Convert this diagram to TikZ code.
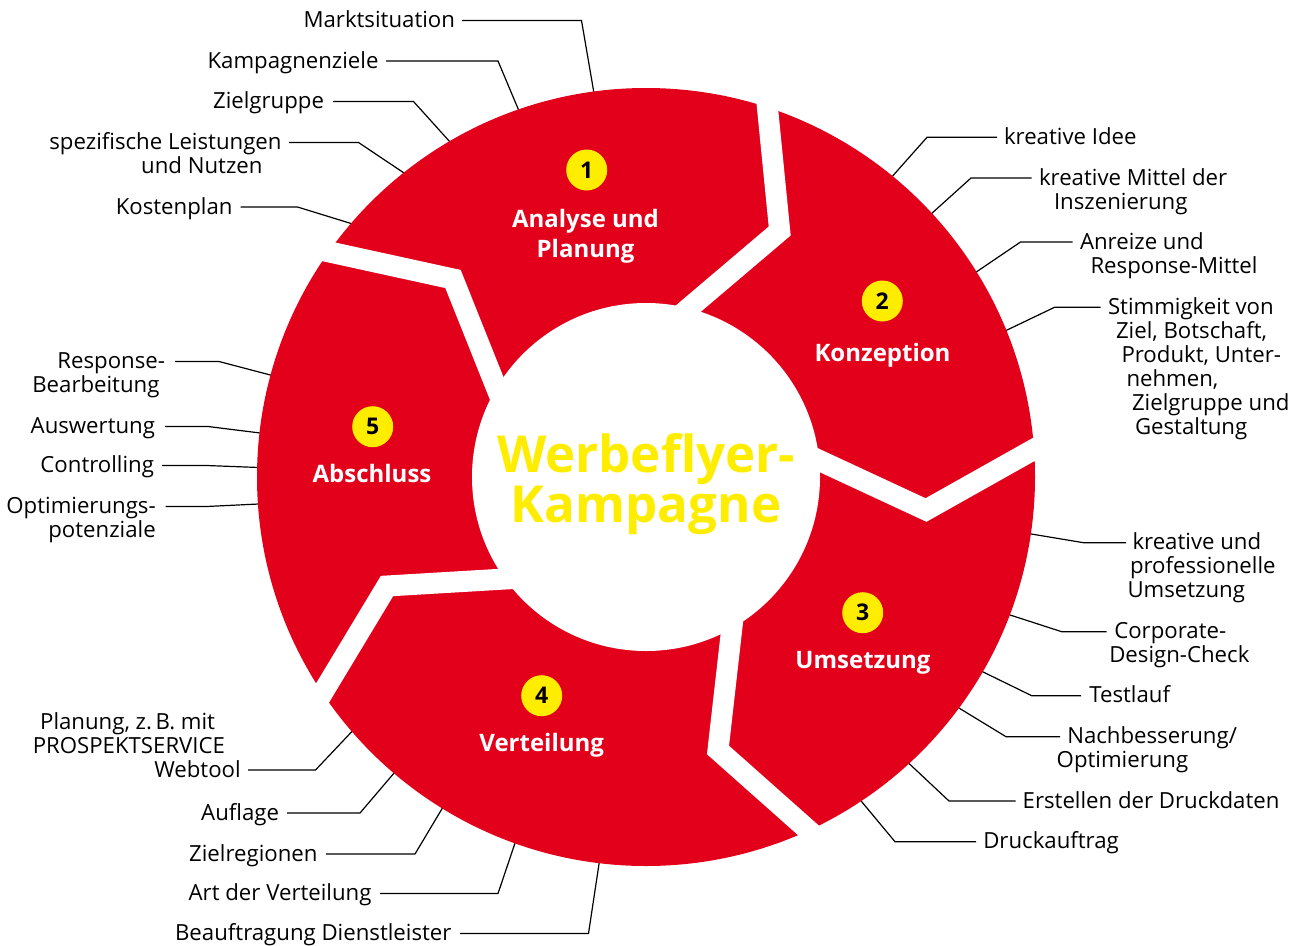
\documentclass[tikz,border=0pt]{standalone}
\usepackage{fontspec}
\setmainfont{Open Sans}
\usetikzlibrary{calc}
\definecolor{fred}{HTML}{E2001A}
\definecolor{fyel}{HTML}{FFED00}
\AtBeginDocument{\lineskiplimit=-100pt}
\begin{document}
\begin{tikzpicture}[x=1pt,y=-1pt,
 lab/.style={inner sep=0pt, outer sep=0pt, text=black, font=\fontsize{22.2}{24}\selectfont},
 labl/.style={lab, anchor=north east, align=right},
 labr/.style={lab, anchor=north west, align=left},
 lead/.style={draw=black, line width=1.2pt},
 numc/.style={circle, fill=fyel, minimum size=41pt, inner sep=0pt, text=black, font=\fontsize{23}{23}\selectfont\bfseries},
 ttl/.style={text=white, font=\fontsize{24}{30}\selectfont\bfseries, align=center, inner sep=0pt},
 gapline/.style={draw=white, line width=21pt, miter limit=20}]
\useasboundingbox (0,0) rectangle (1298,945);
\coordinate (C) at (646,477);
% ring anchor points for leaders
\foreach \n/\a in {1/97.7,2/109.1,3/120.2,4/128.3,5/139.0,6/50.7,7/42.7,8/31.8,9/22.1,10/-8.4,11/-20.8,12/-30.1,13/-36.5,14/-47.5,15/-56.5,16/220.8,17/229.6,18/238.4,19/250.3,20/263.1,21/164.8,22/173.5,23/178.6,24/184.0}
  \coordinate (e\n) at ($(C)+(-\a:384)$);
% left labels
\node[labl] (m1) at (455,10.5) {\rule{0pt}{17pt}Marktsituation};
\node[labl] (m2) at (378.5,51) {\rule{0pt}{17pt}Kampagnenziele};
\node[labl] (m3) at (324,91.5) {\rule{0pt}{17pt}Zielgruppe};
\node[labl] (m4) at (281.5,132.5) {\rule{0pt}{17pt}spezifische Leistungen\\und Nutzen\rule{19pt}{0pt}};
\node[labl] (m5) at (232.5,197) {\rule{0pt}{17pt}Kostenplan};
\node[labl] (m16) at (240.7,712) {\rule{0pt}{17pt}Planung, z.\,B. mit\rule{25.7pt}{0pt}\\PROSPEKTSERVICE\rule{15.7pt}{0pt}\\Webtool};
\node[labl] (m17) at (279,803) {\rule{0pt}{17pt}Auflage};
\node[labl] (m18) at (317.5,844) {\rule{0pt}{17pt}Zielregionen};
\node[labl] (m19) at (371.5,883.5) {\rule{0pt}{17pt}Art der Verteilung};
\node[labl] (m20) at (451.5,923.5) {\rule{0pt}{17pt}Beauftragung Dienstleister};
\node[labl] (m21) at (165,351.5) {\rule{0pt}{17pt}Response-\\Bearbeitung\rule{5.5pt}{0pt}};
\node[labl] (m22) at (155,416.5) {\rule{0pt}{17pt}Auswertung};
\node[labl] (m23) at (154,455.5) {\rule{0pt}{17pt}Controlling};
\node[labl] (m24) at (155.7,496.5) {\rule{0pt}{17pt}Optimierungs-\\potenziale};
% right labels
\node[labr] (m6) at (1004,127.3) {\rule{0pt}{17pt}kreative Idee};
\node[labr] (m7) at (1039,168) {\rule{0pt}{17pt}kreative Mittel der\\\rule{15pt}{0pt}Inszenierung};
\node[labr] (m8) at (1080,232) {\rule{0pt}{17pt}Anreize und\\\rule{10.5pt}{0pt}Response-Mittel};
\node[labr] (m9) at (1108,297.3) {\rule{0pt}{17pt}Stimmigkeit von\\\rule{8pt}{0pt}Ziel, Botschaft,\\\rule{13.5pt}{0pt}Produkt, Unter-\\\rule{18.5pt}{0pt}nehmen,\\\rule{24pt}{0pt}Zielgruppe und\\\rule{27pt}{0pt}Gestaltung};
\node[labr] (m10) at (1127.5,532.7) {\rule{0pt}{17pt}\rule{5pt}{0pt}kreative und\\\rule{2.5pt}{0pt}professionelle\\Umsetzung};
\node[labr] (m11) at (1109.3,621.7) {\rule{0pt}{17pt}\rule{5pt}{0pt}Corporate-\\Design-Check};
\node[labr] (m12) at (1089.3,685.7) {\rule{0pt}{17pt}Testlauf};
\node[labr] (m13) at (1056.7,726.7) {\rule{0pt}{17pt}\rule{10.6pt}{0pt}Nachbesserung/\\Optimierung};
\node[labr] (m14) at (1022.7,791) {\rule{0pt}{17pt}Erstellen der Druckdaten};
\node[labr] (m15) at (983.3,831.7) {\rule{0pt}{17pt}Druckauftrag};
% leaders
\draw[lead] ([shift={(7,10)}]m1.north east) -- ++(119.5,0) -- (e1);
\draw[lead] ([shift={(7.5,10)}]m2.north east) -- ++(112,0) -- (e2);
\draw[lead] ([shift={(9,10)}]m3.north east) -- ++(80.5,0) -- (e3);
\draw[lead] ([shift={(7.5,10)}]m4.north east) -- ++(69.5,0) -- (e4);
\draw[lead] ([shift={(8,10)}]m5.north east) -- ++(57,0) -- (e5);
\draw[lead] ([shift={(-7,10)}]m6.north west) -- ++(-70,0) -- (e6);
\draw[lead] ([shift={(-7.5,10)}]m7.north west) -- ++(-60.5,0) -- (e7);
\draw[lead] ([shift={(-7.5,10)}]m8.north west) -- ++(-52,0) -- (e8);
\draw[lead] ([shift={(-7.5,10)}]m9.north west) -- ++(-46,0) -- (e9);
\draw[lead] ([shift={(-1.5,10)}]m10.north west) -- ++(-42.5,0) -- (e10);
\draw[lead] ([shift={(-2.6,10)}]m11.north west) -- ++(-45,0) -- (e11);
\draw[lead] ([shift={(-8.3,10)}]m12.north west) -- ++(-49.3,0) -- (e12);
\draw[lead] ([shift={(3.3,10)}]m13.north west) -- ++(-54,0) -- (e13);
\draw[lead] ([shift={(-7.2,10)}]m14.north west) -- ++(-66.5,0) -- (e14);
\draw[lead] ([shift={(-7.3,10)}]m15.north west) -- ++(-81,0) -- (e15);
\draw[lead] ([shift={(7.3,58)}]m16.north east) -- ++(67.5,0) -- (e16);
\draw[lead] ([shift={(8,10)}]m17.north east) -- ++(73,0) -- (e17);
\draw[lead] ([shift={(8.5,10)}]m18.north east) -- ++(89,0) -- (e18);
\draw[lead] ([shift={(8.5,10)}]m19.north east) -- ++(118,0) -- (e19);
\draw[lead] ([shift={(8.5,10)}]m20.north east) -- ++(128.5,0) -- (e20);
\draw[lead] ([shift={(10,10)}]m21.north east) -- ++(44,0) -- (e21);
\draw[lead] ([shift={(10,10)}]m22.north east) -- ++(43,0) -- (e22);
\draw[lead] ([shift={(8,10)}]m23.north east) -- ++(44.5,0) -- (e23);
\draw[lead] ([shift={(9.8,10)}]m24.north east) -- ++(41,0) -- (e24);
% ring
\fill[fred] (C) circle (389);
\begin{scope}
 \clip (C) circle (390);
 \draw[gapline] (293,244) -- (453,279) -- (517.5,440.5);
 \draw[gapline] (763.8,71) -- (779.7,231) -- (645.9,344.6);
 \draw[gapline] (1066,431.3) -- (926,510) -- (767.8,436.5);
 \draw[gapline] (834.4,853.4) -- (718,750) -- (738.6,568.5);
 \draw[gapline] (304.2,723.4) -- (387,586) -- (564,575.5);
\end{scope}
\fill[white] (C) circle (174);
% numbers and titles
\node[numc] (n1) at (586.7,170) {1};
\node[numc] (n2) at (882.3,301) {2};
\node[numc] (n3) at (862.7,612.7) {3};
\node[numc] (n4) at (541.7,695.7) {4};
\node[numc] (n5) at (372.7,426.7) {5};
\node[ttl, anchor=north] (t1) at (585.5,208.7) {\rule{0pt}{18pt}Analyse und\\Planung};
\node[ttl, anchor=base] (t2) at (882.5,361) {Konzeption};
\node[ttl, anchor=base] (t3) at (863,668.3) {Umsetzung};
\node[ttl, anchor=base] (t4) at (541.7,751.7) {Verteilung};
\node[ttl, anchor=base] (t5) at (372,482.7) {Abschluss};
\node[anchor=north, align=center, inner sep=0pt, text=fyel, font=\fontsize{51}{50}\selectfont\bfseries] (ctr) at (646,433.7) {\rule{0pt}{38pt}Werbeflyer-\\Kampagne};
\end{tikzpicture}
\end{document}
